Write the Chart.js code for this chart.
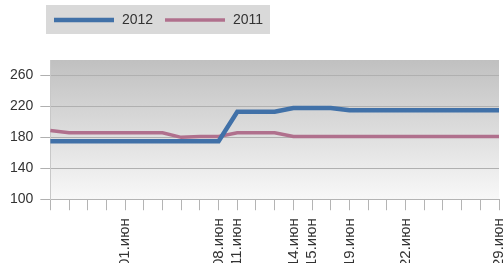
<!DOCTYPE html>
<html>
<head>
<meta charset="utf-8">
<script src="https://cdn.jsdelivr.net/npm/chart.js@4"></script>
<style>
  html, body { margin: 0; padding: 0; background: #fff; }
  #wrap { width: 504px; height: 263px; overflow: hidden; position: relative; }
  #box { width: 525px; height: 275px; }
</style>
</head>
<body>
<div id="wrap"><div id="box"><canvas id="chart1"></canvas></div></div>
<script>
// dates (business days, May 28 .. June 29)
const dates = ['28.май','29.май','30.май','31.май','01.июн','04.июн','05.июн','06.июн','07.июн','08.июн',
  '11.июн','12.июн','13.июн','14.июн','15.июн','18.июн','19.июн','20.июн','21.июн','22.июн',
  '25.июн','26.июн','27.июн','28.июн','29.июн'];
// only these are labelled on the axis
const shownTicks = ['01.июн','08.июн','11.июн','14.июн','15.июн','19.июн','22.июн','29.июн'];

const values2012 = [175,175,175,175,175,175,175,175,175,175,213,213,213,218,218,218,215,215,215,215,215,215,215,215,215];
const values2011 = [189,186,186,186,186,186,186,180,181,181,186,186,186,181,181,181,181,181,181,181,181,181,181,181,181];

const yTicks = [100,140,180,220,260];

// fond dégradé de la zone du graphique + légende grise
const bgPlugin = {
  id: 'bgPlugin',
  beforeDraw(chart) {
    const ctx = chart.ctx;
    const a = chart.chartArea;
    const grad = ctx.createLinearGradient(0, a.top, 0, a.bottom);
    grad.addColorStop(0, '#c0c0c0');
    grad.addColorStop(1, '#f8f8f8');
    ctx.save();
    ctx.fillStyle = grad;
    ctx.fillRect(a.left, a.top, a.right - a.left, a.bottom - a.top);
    ctx.restore();
  },
  afterDraw(chart) {
    const ctx = chart.ctx;
    ctx.save();
    ctx.fillStyle = '#d9d9d9';
    ctx.fillRect(46, 5, 224, 29);
    ctx.font = '14px "Liberation Sans", Arial, sans-serif';
    ctx.textBaseline = 'middle';
    let x = 54;
    chart.data.datasets.forEach(ds => {
      ctx.strokeStyle = ds.borderColor;
      ctx.lineWidth = ds.borderWidth;
      ctx.beginPath();
      ctx.moveTo(x, 20);
      ctx.lineTo(x + 60, 20);
      ctx.stroke();
      ctx.fillStyle = '#333';
      ctx.fillText(ds.label, x + 68, 20.5);
      x += 111;
    });
    ctx.restore();
  }
};

const ctx = document.getElementById('chart1').getContext('2d');
const myChart = new Chart(ctx, {
  type: 'line',
  data: {
    labels: dates,
    datasets: [
      { label: '2012', data: values2012, borderColor: '#4171a8', borderWidth: 4.5, pointRadius: 0, tension: 0 },
      { label: '2011', data: values2011, borderColor: '#b0708d', borderWidth: 3.5, pointRadius: 0, tension: 0 }
    ]
  },
  options: {
    responsive: true,
    maintainAspectRatio: false,
    animation: false,
    layout: { padding: { top: 60, left: 3, right: 0, bottom: 0 } },
    plugins: { legend: { display: false }, tooltip: { enabled: false } },
    scales: {
      x: {
        offset: false,
        grid: { drawOnChartArea: false, drawTicks: true, tickLength: 11, color: '#b4b4b4' },
        border: { color: '#b4b4b4' },
        ticks: {
          autoSkip: false,
          minRotation: 90,
          maxRotation: 90,
          padding: 8,
          color: '#333',
          font: { family: '"Liberation Sans", Arial, sans-serif', size: 15 },
          callback: function(v, i) {
            const lab = dates[i];
            return shownTicks.includes(lab) ? lab : '';
          }
        }
      },
      y: {
        min: 100,
        max: 280,
        afterBuildTicks: axis => { axis.ticks = yTicks.map(v => ({ value: v })); },
        grid: { color: '#b0b0b0', tickLength: 10 },
        border: { color: '#c8c8c8' },
        ticks: {
          padding: 7,
          color: '#333',
          font: { family: '"Liberation Sans", Arial, sans-serif', size: 14 }
        }
      }
    }
  },
  plugins: [bgPlugin]
});
</script>
</body>
</html>
